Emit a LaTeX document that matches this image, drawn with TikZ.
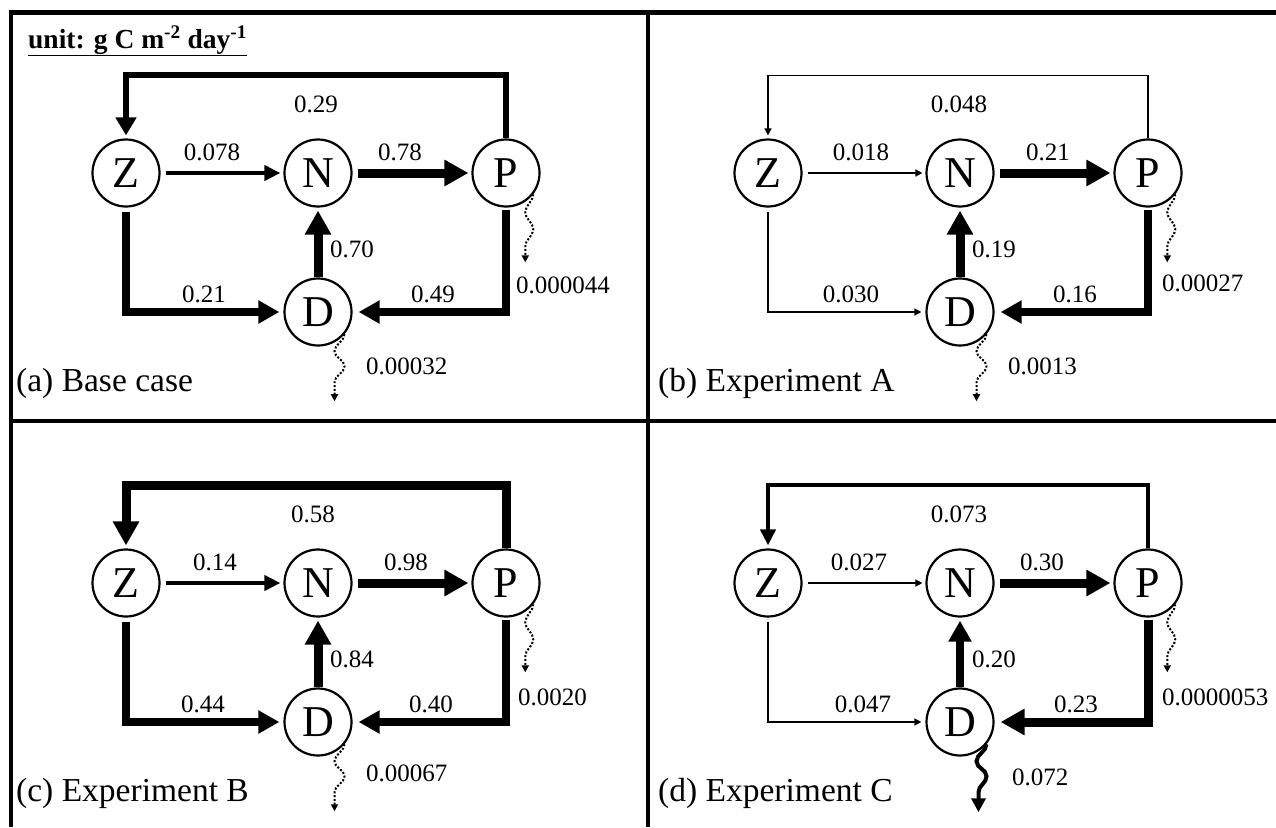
\documentclass[tikz,border=0pt]{standalone}
\usepackage{fontspec}
\setmainfont{Liberation Serif}
\usetikzlibrary{arrows.meta}
\begin{document}
\begin{tikzpicture}[x=1pt,y=-1pt,
  box/.style={circle,draw,line width=2.2pt,minimum size=67pt,inner sep=0pt,font=\fontsize{44}{44}\selectfont},
  lbl/.style={font=\fontsize{25}{25}\selectfont,inner sep=0pt},
  olbl/.style={lbl,anchor=west},
  ttl/.style={font=\fontsize{33.5}{33.5}\selectfont,inner sep=0pt,anchor=west},
  frame/.style={line width=4.5pt},
  fA/.style={line width=1.5pt,-{Triangle[length=7pt,width=7pt]}},
  fB/.style={line width=4pt,-{Triangle[length=16pt,width=15pt]}},
  fC/.style={line width=6pt,-{Triangle[length=18pt,width=20pt]}},
  fD/.style={line width=7.5pt,-{Triangle[length=21pt,width=22pt]}},
  fE/.style={line width=9pt,-{Triangle[length=24pt,width=25pt]}},
  outdot/.style={line width=2pt,dash pattern=on 2pt off 1.8pt,-{Triangle[length=7pt,width=7pt]}},
  outsolid/.style={line width=4pt,-{Triangle[length=14pt,width=14pt]}},
]
\useasboundingbox (0,0) rectangle (1276,827);
% frame
\draw[frame] (11,827) |- (1276,12.5);
\draw[frame] (648,12.5) -- (648,827);
\draw[frame] (11,421) -- (1276,421);
\node[anchor=base west,inner sep=0pt,font=\bfseries\fontsize{27.5}{27.5}\selectfont] (unit) at (28,48) {\underline{unit: g C m\textsuperscript{-2} day\textsuperscript{-1}}};

% ---------- panel (a)
\begin{scope}
\node[box] (Za) at (126,173) {Z};
\node[box] (Na) at (318,173) {N};
\node[box] (Pa) at (506,173) {P};
\node[box] (Da) at (318,312) {D};
\draw[fC,shorten >=3pt] (Pa.north) -- ++(0,-63) -| (Za.north);
\draw[fB,shorten <=5pt,shorten >=3pt] (Za) -- (Na);
\draw[fE,shorten <=5pt,shorten >=3pt] (Na) -- (Pa);
\draw[fE,shorten >=3pt] (Da) -- (Na);
\draw[fD,shorten <=4pt,shorten >=4pt] (Za.south) |- (Da.west);
\draw[fD,shorten <=2pt,shorten >=6pt] (Pa.south) |- (Da.east);
\draw[outdot] (Pa.-38) .. controls +(0,7) and +(0,-7) .. ++(-8,18) .. controls +(0,7) and +(0,-7) .. ++(8,17) .. controls +(0,7) and +(0,-7) .. ++(-8,17) -- ++(0,16);
\draw[outdot] (Da.-40) .. controls +(0,7) and +(0,-7) .. ++(-10,17) .. controls +(0,7) and +(0,-7) .. ++(10,15) .. controls +(0,7) and +(0,-7) .. ++(-10,16) -- ++(0,19);
\node[lbl] (a1) at (316,104) {0.29};
\node[lbl] (a2) at (212,152) {0.078};
\node[lbl] (a3) at (400,152) {0.78};
\node[lbl] (a4) at (352,249) {0.70};
\node[lbl] (a5) at (204,294) {0.21};
\node[lbl] (a6) at (433,294) {0.49};
\node[olbl] (a7) at (516,285) {0.000044};
\node[olbl] (a8) at (366,366) {0.00032};
\node[ttl] (at) at (16,383) {(a) Base case};
\end{scope}

% ---------- panel (b)
\begin{scope}[shift={(642,0)}]
\node[box] (Zb) at (126,173) {Z};
\node[box] (Nb) at (318,173) {N};
\node[box] (Pb) at (506,173) {P};
\node[box] (Db) at (318,312) {D};
\draw[fA,shorten >=3pt] (Pb.north) -- ++(0,-63) -| (Zb.north);
\draw[fA,shorten <=5pt,shorten >=3pt] (Zb) -- (Nb);
\draw[fE,shorten <=5pt,shorten >=3pt] (Nb) -- (Pb);
\draw[fE,shorten >=3pt] (Db) -- (Nb);
\draw[fA,shorten <=4pt,shorten >=4pt] (Zb.south) |- (Db.west);
\draw[fD,shorten <=2pt,shorten >=6pt] (Pb.south) |- (Db.east);
\draw[outdot] (Pb.-38) .. controls +(0,7) and +(0,-7) .. ++(-8,18) .. controls +(0,7) and +(0,-7) .. ++(8,17) .. controls +(0,7) and +(0,-7) .. ++(-8,17) -- ++(0,16);
\draw[outdot] (Db.-40) .. controls +(0,7) and +(0,-7) .. ++(-10,17) .. controls +(0,7) and +(0,-7) .. ++(10,15) .. controls +(0,7) and +(0,-7) .. ++(-10,16) -- ++(0,19);
\node[lbl] (b1) at (317,104) {0.048};
\node[lbl] (b2) at (219,152) {0.018};
\node[lbl] (b3) at (406,152) {0.21};
\node[lbl] (b4) at (352,249) {0.19};
\node[lbl] (b5) at (209,294) {0.030};
\node[lbl] (b6) at (433,294) {0.16};
\node[olbl] (b7) at (520,283) {0.00027};
\node[olbl] (b8) at (366,366) {0.0013};
\node[ttl] (bt) at (16,383) {(b) Experiment A};
\end{scope}

% ---------- panel (c)
\begin{scope}[shift={(0,410)}]
\node[box] (Zc) at (126,173) {Z};
\node[box] (Nc) at (318,173) {N};
\node[box] (Pc) at (506,173) {P};
\node[box] (Dc) at (318,312) {D};
\draw[fE,shorten >=3pt] (Pc.north) -- ++(0,-63) -| (Zc.north);
\draw[fB,shorten <=5pt,shorten >=3pt] (Zc) -- (Nc);
\draw[fE,shorten <=5pt,shorten >=3pt] (Nc) -- (Pc);
\draw[fE,shorten >=3pt] (Dc) -- (Nc);
\draw[fD,shorten <=4pt,shorten >=4pt] (Zc.south) |- (Dc.west);
\draw[fD,shorten <=2pt,shorten >=6pt] (Pc.south) |- (Dc.east);
\draw[outdot] (Pc.-38) .. controls +(0,7) and +(0,-7) .. ++(-8,18) .. controls +(0,7) and +(0,-7) .. ++(8,17) .. controls +(0,7) and +(0,-7) .. ++(-8,17) -- ++(0,16);
\draw[outdot] (Dc.-40) .. controls +(0,7) and +(0,-7) .. ++(-10,17) .. controls +(0,7) and +(0,-7) .. ++(10,15) .. controls +(0,7) and +(0,-7) .. ++(-10,16) -- ++(0,19);
\node[lbl] (c1) at (313,104) {0.58};
\node[lbl] (c2) at (215,152) {0.14};
\node[lbl] (c3) at (406,152) {0.98};
\node[lbl] (c4) at (352,249) {0.84};
\node[lbl] (c5) at (203,294) {0.44};
\node[lbl] (c6) at (431,294) {0.40};
\node[olbl] (c7) at (518,287) {0.0020};
\node[olbl] (c8) at (366,363) {0.00067};
\node[ttl] (ct) at (16,383) {(c) Experiment B};
\end{scope}

% ---------- panel (d)
\begin{scope}[shift={(642,410)}]
\node[box] (Zd) at (126,173) {Z};
\node[box] (Nd) at (318,173) {N};
\node[box] (Pd) at (506,173) {P};
\node[box] (Dd) at (318,312) {D};
\draw[fB,shorten >=3pt] (Pd.north) -- ++(0,-63) -| (Zd.north);
\draw[fA,shorten <=5pt,shorten >=3pt] (Zd) -- (Nd);
\draw[fE,shorten <=5pt,shorten >=3pt] (Nd) -- (Pd);
\draw[fD,shorten >=3pt] (Dd) -- (Nd);
\draw[fA,shorten <=4pt,shorten >=4pt] (Zd.south) |- (Dd.west);
\draw[fE,shorten <=2pt,shorten >=6pt] (Pd.south) |- (Dd.east);
\draw[outdot] (Pd.-38) .. controls +(0,7) and +(0,-7) .. ++(-8,18) .. controls +(0,7) and +(0,-7) .. ++(8,17) .. controls +(0,7) and +(0,-7) .. ++(-8,17) -- ++(0,16);
\draw[outsolid] (Dd.-40) .. controls +(0,7) and +(0,-7) .. ++(-10,17) .. controls +(0,7) and +(0,-7) .. ++(10,15) .. controls +(0,7) and +(0,-7) .. ++(-8,16) -- ++(0,20);
\node[lbl] (d1) at (317,104) {0.073};
\node[lbl] (d2) at (217,152) {0.027};
\node[lbl] (d3) at (400,152) {0.30};
\node[lbl] (d4) at (352,249) {0.20};
\node[lbl] (d5) at (221,294) {0.047};
\node[lbl] (d6) at (434,294) {0.23};
\node[olbl] (d7) at (520,287) {0.0000053};
\node[olbl] (d8) at (370,367) {0.072};
\node[ttl] (dt) at (16,383) {(d) Experiment C};
\end{scope}
\end{tikzpicture}
\end{document}
